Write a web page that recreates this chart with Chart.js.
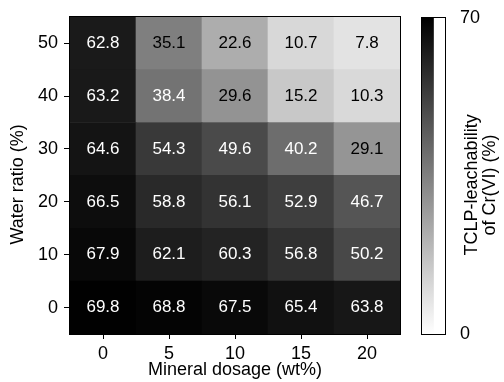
<!DOCTYPE html>
<html><head><meta charset="utf-8">
<script src="https://cdn.jsdelivr.net/npm/chart.js@4/dist/chart.umd.min.js"></script>
<style>
html,body{margin:0;padding:0;background:#fff;}
#wrap{position:relative;width:504px;height:382px;overflow:hidden;}
#main{position:absolute;left:0;top:0;}
#cb{position:absolute;left:410px;top:0;}
</style></head><body>
<div id="wrap">
<canvas id="main" width="504" height="382"></canvas>
<canvas id="cb" width="94" height="382"></canvas>
</div>
<script>
const dosages = ['0', '5', '10', '15', '20'];
const waterRatios = [0, 10, 20, 30, 40, 50];
const row0  = [69.8, 68.8, 67.5, 65.4, 63.8];
const row10 = [67.9, 62.1, 60.3, 56.8, 50.2];
const row20 = [66.5, 58.8, 56.1, 52.9, 46.7];
const row30 = [64.6, 54.3, 49.6, 40.2, 29.1];
const row40 = [63.2, 38.4, 29.6, 15.2, 10.3];
const row50 = [62.8, 35.1, 22.6, 10.7, 7.8];
const rows = [row0, row10, row20, row30, row40, row50];
const yTicks = [0, 10, 20, 30, 40, 50];
const cbMin = 0, cbMax = 70;
const cbTicks = [0, 70];

const FAM = '"Liberation Sans", Arial, sans-serif';
function grayOf(v) {
  const t = Math.max(0, Math.min(1, (v - cbMin) / (cbMax - cbMin)));
  const g = Math.round(255 * (1 - t));
  return `rgb(${g},${g},${g})`;
}

const datasets = rows.map((vals, i) => ({
  label: 'Water ' + waterRatios[i],
  data: vals.map(() => [waterRatios[i] - 5, waterRatios[i] + 5]),
  values: vals,
  backgroundColor: vals.map(grayOf),
  borderWidth: 0,
  barPercentage: 1,
  categoryPercentage: 1,
  grouped: false
}));

const cellLabels = {
  id: 'cellLabels',
  afterDatasetsDraw(chart) {
    const ctx = chart.ctx;
    ctx.save();
    ctx.font = '17px ' + FAM;
    ctx.textAlign = 'center';
    ctx.textBaseline = 'middle';
    chart.data.datasets.forEach((ds, di) => {
      const meta = chart.getDatasetMeta(di);
      meta.data.forEach((el, j) => {
        const v = ds.values[j];
        ctx.fillStyle = v > 37 ? '#fff' : '#000';
        ctx.fillText(v.toFixed(1), el.x, (el.y + el.base) / 2);
      });
    });
    ctx.restore();
  }
};

const frame = {
  id: 'frame',
  afterDatasetsDraw(chart) {
    const a = chart.chartArea, ctx = chart.ctx;
    ctx.save();
    ctx.strokeStyle = '#000';
    ctx.lineWidth = 1;
    ctx.strokeRect(Math.round(a.left) - 0.5, Math.round(a.top) - 0.5,
                   Math.round(a.right - a.left) + 1, Math.round(a.bottom - a.top) + 1);
    ctx.restore();
  }
};

const yTitle = {
  id: 'yTitle',
  afterDraw(chart) {
    const a = chart.chartArea, ctx = chart.ctx;
    ctx.save();
    ctx.translate(18, (a.top + a.bottom) / 2 + 9);
    ctx.rotate(-Math.PI / 2);
    ctx.font = '18px ' + FAM;
    ctx.fillStyle = '#000';
    ctx.textAlign = 'center';
    ctx.textBaseline = 'middle';
    ctx.fillText('Water ratio (%)', 0, 0);
    ctx.restore();
  }
};

new Chart(document.getElementById('main'), {
  type: 'bar',
  data: { labels: dosages, datasets },
  options: {
    responsive: false,
    animation: false,
    layout: { padding: { top: 16, right: 104, left: 0, bottom: 0 } },
    plugins: { legend: { display: false }, tooltip: { enabled: false } },
    scales: {
      x: {
        offset: true,
        grid: { display: true, drawOnChartArea: false, offset: false, drawTicks: true, tickLength: 5, tickColor: '#000', tickWidth: 1 },
        border: { display: false },
        ticks: { color: '#000', font: { family: FAM, size: 18 }, padding: 4, maxRotation: 0 },
        title: { display: true, text: 'Mineral dosage (wt%)', color: '#000', font: { family: FAM, size: 18 }, padding: { top: 0, bottom: 1 } },
        afterFit(s) { s.height = 48; }
      },
      y: {
        min: -5, max: 55,
        afterBuildTicks(s) { s.ticks = yTicks.map(v => ({ value: v })); },
        grid: { display: true, drawOnChartArea: false, drawTicks: true, tickLength: 6, tickColor: '#000', tickWidth: 1 },
        border: { display: false },
        ticks: { color: '#000', font: { family: FAM, size: 18 }, padding: 6 },
        afterFit(s) { s.width = 70; }
      }
    }
  },
  plugins: [cellLabels, frame, yTitle]
});

const cbTitle = {
  id: 'cbTitle',
  afterDraw(chart) {
    const a = chart.chartArea, ctx = chart.ctx;
    ctx.save();
    ctx.font = '18px ' + FAM;
    ctx.fillStyle = '#000';
    ctx.textAlign = 'center';
    ctx.textBaseline = 'middle';
    const cy = (a.top + a.bottom) / 2 + 9;
    ctx.translate(a.right + 27, cy);
    ctx.rotate(-Math.PI / 2);
    ctx.fillText('TCLP-leachability', 0, 0);
    ctx.fillText('of Cr(VI) (%)', 0, 18);
    ctx.restore();
  }
};

new Chart(document.getElementById('cb'), {
  type: 'bar',
  data: {
    labels: ['cb'],
    datasets: [{
      data: [[cbMin, cbMax]],
      borderWidth: 0,
      barPercentage: 1,
      categoryPercentage: 1,
      backgroundColor(ctx) {
        const ch = ctx.chart;
        if (!ch.chartArea) return '#888';
        const ys = ch.scales.y;
        const g = ch.ctx.createLinearGradient(0, ys.getPixelForValue(cbMin), 0, ys.getPixelForValue(cbMax));
        g.addColorStop(0, grayOf(cbMin));
        g.addColorStop(1, grayOf(cbMax));
        return g;
      }
    }]
  },
  options: {
    responsive: false,
    animation: false,
    layout: { padding: { top: 16, bottom: 48, left: 12, right: 0 } },
    plugins: { legend: { display: false }, tooltip: { enabled: false } },
    scales: {
      x: { display: false, offset: false },
      y: {
        position: 'right',
        min: cbMin, max: cbMax,
        afterBuildTicks(s) { s.ticks = cbTicks.map(v => ({ value: v })); },
        grid: { display: false },
        border: { display: false },
        ticks: { color: '#000', font: { family: FAM, size: 18 }, padding: 7 },
        afterFit(s) { s.width = 59; }
      }
    }
  },
  plugins: [frame, cbTitle]
});
</script>
</body></html>
